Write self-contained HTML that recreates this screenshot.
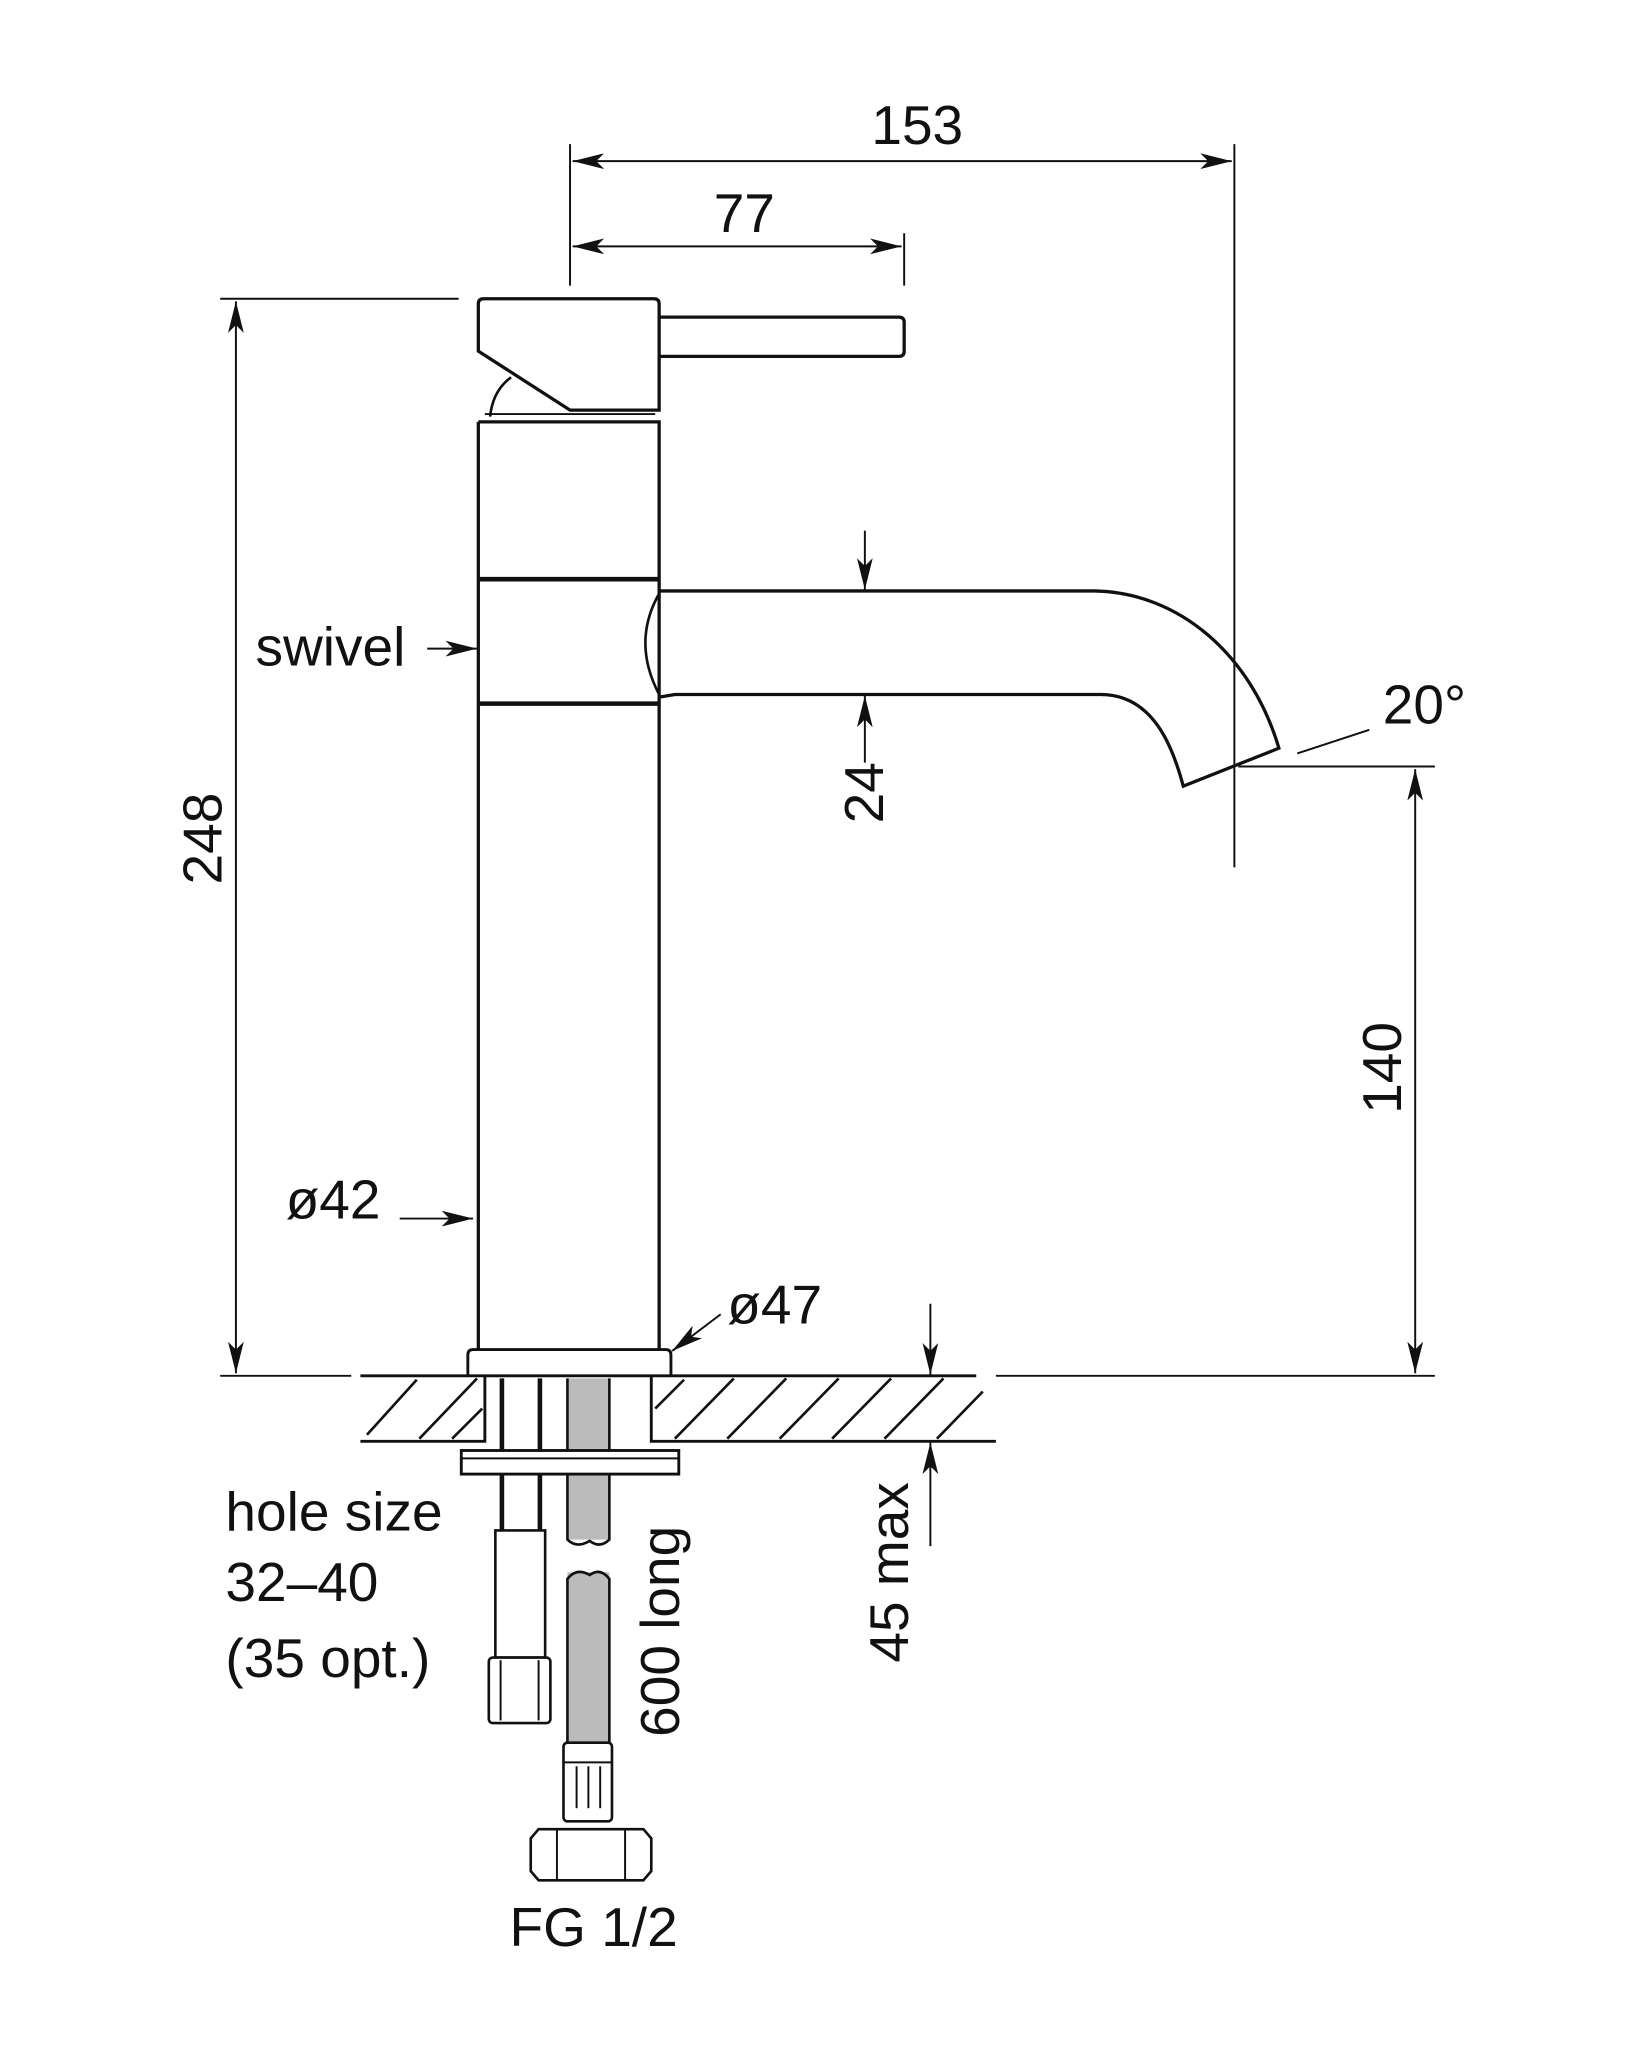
<!DOCTYPE html>
<html><head><style>html,body{margin:0;padding:0;background:#fff}svg{display:block}</style></head>
<body>
<svg width="1638" height="2048" viewBox="0 0 1250 1563" xmlns="http://www.w3.org/2000/svg" font-family="Liberation Sans, sans-serif" fill="none" stroke="#111" stroke-width="2.2">
<defs>
<marker id="a" viewBox="0 0 24 12" refX="24" refY="6" markerWidth="24" markerHeight="12" markerUnits="userSpaceOnUse" orient="auto-start-reverse"><path d="M0,0 L24,6 L0,12 L6,6z" fill="#111" stroke="none"/></marker>
</defs>
<!-- dims top -->
<line x1="435" y1="110" x2="435" y2="218" stroke-width="1.5"/>
<line x1="942" y1="110" x2="942" y2="662" stroke-width="1.5"/>
<line x1="690" y1="178" x2="690" y2="218" stroke-width="1.5"/>
<line x1="437" y1="123" x2="940" y2="123" stroke-width="1.5" marker-start="url(#a)" marker-end="url(#a)"/>
<line x1="437" y1="188" x2="688" y2="188" stroke-width="1.5" marker-start="url(#a)" marker-end="url(#a)"/>
<!-- handle -->
<path d="M365,268 L365,232 Q365,228 369,228 L499,228 Q503,228 503,232 L503,313 L435,313 Z" stroke-width="2.5"/>
<path d="M503,242 L686,242 Q690,242 690,246 L690,268 Q690,272 686,272 L503,272" stroke-width="2.5"/>
<path d="M374,318 Q376,298 390,288" stroke-width="2"/>
<line x1="370" y1="316" x2="500" y2="316" stroke-width="1.5"/>
<!-- body -->
<path d="M365,322 L503,322 L503,1030 M365,322 L365,1030" stroke-width="2.5"/>
<line x1="365" y1="442" x2="503" y2="442" stroke-width="3.5"/>
<line x1="365" y1="537" x2="503" y2="537" stroke-width="3.5"/>
<!-- spout -->
<path d="M503,451 L835,451 C900,452 955,500 976,571 L903,600 C895,570 880,530 840,530 L515,530 L503,532" stroke-width="2.5"/>
<path d="M503,453 Q482,490 503,530" stroke-width="2"/>
<line x1="660" y1="405" x2="660" y2="450" stroke-width="1.5" marker-end="url(#a)"/>
<line x1="660" y1="582" x2="660" y2="531" stroke-width="1.5" marker-end="url(#a)"/>
<!-- 20 deg -->
<line x1="990" y1="575" x2="1045" y2="557" stroke-width="1.5"/>
<line x1="945" y1="585" x2="1095" y2="585" stroke-width="1.5"/>
<line x1="1080" y1="587" x2="1080" y2="1048" stroke-width="1.5" marker-start="url(#a)" marker-end="url(#a)"/>
<!-- 248 -->
<line x1="168" y1="228" x2="350" y2="228" stroke-width="1.5"/>
<line x1="180" y1="230" x2="180" y2="1048" stroke-width="1.5" marker-start="url(#a)" marker-end="url(#a)"/>
<line x1="168" y1="1050" x2="268" y2="1050" stroke-width="1.5"/>
<!-- leader arrows -->
<line x1="326" y1="495" x2="364" y2="495" stroke-width="1.5" marker-end="url(#a)"/>
<line x1="305" y1="930" x2="361" y2="930" stroke-width="1.5" marker-end="url(#a)"/>
<line x1="550" y1="1003" x2="513" y2="1031" stroke-width="1.5" marker-end="url(#a)"/>
<!-- flange -->
<path d="M357,1050 L357,1034 Q357,1030 361,1030 L508,1030 Q512,1030 512,1034 L512,1050" stroke-width="2.2"/>
<!-- counter -->
<line x1="275" y1="1050" x2="745" y2="1050" stroke-width="2.2"/>
<line x1="760" y1="1050" x2="1095" y2="1050" stroke-width="1.5"/>
<path d="M275,1100 L370,1100 L370,1050 M497,1050 L497,1100 L760,1100" stroke-width="2.2"/>
<g stroke-width="2">
<line x1="280" y1="1095" x2="318" y2="1053"/><line x1="320" y1="1098" x2="364" y2="1052"/><line x1="345" y1="1098" x2="368" y2="1075"/>
<line x1="500" y1="1075" x2="522" y2="1053"/><line x1="515" y1="1098" x2="560" y2="1052"/><line x1="555" y1="1098" x2="600" y2="1052"/><line x1="595" y1="1098" x2="640" y2="1052"/><line x1="635" y1="1098" x2="680" y2="1052"/><line x1="675" y1="1098" x2="720" y2="1052"/><line x1="715" y1="1098" x2="750" y2="1062"/>
</g>
<line x1="710" y1="995" x2="710" y2="1049" stroke-width="1.5" marker-end="url(#a)"/>
<line x1="710" y1="1180" x2="710" y2="1101" stroke-width="1.5" marker-end="url(#a)"/>
<!-- hoses -->
<rect x="433" y="1052" width="32" height="123" fill="#bbb" stroke="none"/>
<rect x="433" y="1200" width="32" height="130" fill="#bbb" stroke="none"/>
<path d="M433,1052 L433,1175 Q440,1182 450,1176 Q458,1182 465,1175 L465,1052" stroke-width="2"/>
<path d="M433,1330 L433,1205 Q440,1196 450,1202 Q458,1196 465,1205 L465,1330" stroke-width="2"/>
<line x1="383" y1="1052" x2="383" y2="1170" stroke-width="3.5"/>
<line x1="412" y1="1052" x2="412" y2="1170" stroke-width="3.5"/>
<rect x="352" y="1107" width="166" height="18" fill="#fff" stroke-width="2.2"/>
<line x1="352" y1="1113" x2="518" y2="1113" stroke-width="1.5"/>
<rect x="378" y="1168" width="38" height="97" fill="#fff" stroke-width="2"/>
<rect x="373" y="1265" width="47" height="50" rx="3" fill="#fff" stroke-width="2"/>
<line x1="382" y1="1267" x2="382" y2="1313" stroke-width="1.5"/><line x1="411" y1="1267" x2="411" y2="1313" stroke-width="1.5"/>
<rect x="430" y="1330" width="37" height="60" rx="3" fill="#fff" stroke-width="2"/>
<line x1="430" y1="1345" x2="467" y2="1345" stroke-width="1.5"/>
<line x1="440" y1="1348" x2="440" y2="1380" stroke-width="1.5"/><line x1="449" y1="1348" x2="449" y2="1380" stroke-width="1.5"/><line x1="458" y1="1348" x2="458" y2="1380" stroke-width="1.5"/>
<path d="M411,1396 L491,1396 L497,1403 L497,1428 L491,1435 L411,1435 L405,1428 L405,1403 Z" fill="#fff" stroke-width="2"/>
<line x1="425" y1="1396" x2="425" y2="1435" stroke-width="1.5"/><line x1="477" y1="1396" x2="477" y2="1435" stroke-width="1.5"/>
<!-- text -->
<g fill="#111" stroke="none" font-size="42">
<text x="700" y="110" text-anchor="middle">153</text>
<text x="568" y="177" text-anchor="middle">77</text>
<text x="1087" y="552" text-anchor="middle">20°</text>
<text x="195" y="508">swivel</text>
<text x="218" y="930">ø42</text>
<text x="555" y="1010">ø47</text>
<text x="172" y="1168">hole size</text>
<text x="172" y="1222">32–40</text>
<text x="172" y="1280">(35 opt.)</text>
<text x="453" y="1485" text-anchor="middle">FG 1/2</text>
<text transform="translate(674,605) rotate(-90)" text-anchor="middle">24</text>
<text transform="translate(169,640) rotate(-90)" text-anchor="middle">248</text>
<text transform="translate(1069,815) rotate(-90)" text-anchor="middle">140</text>
<text transform="translate(693,1200) rotate(-90)" text-anchor="middle">45 max</text>
<text transform="translate(518,1245) rotate(-90)" text-anchor="middle">600 long</text>
</g>
</svg>
</body></html>
